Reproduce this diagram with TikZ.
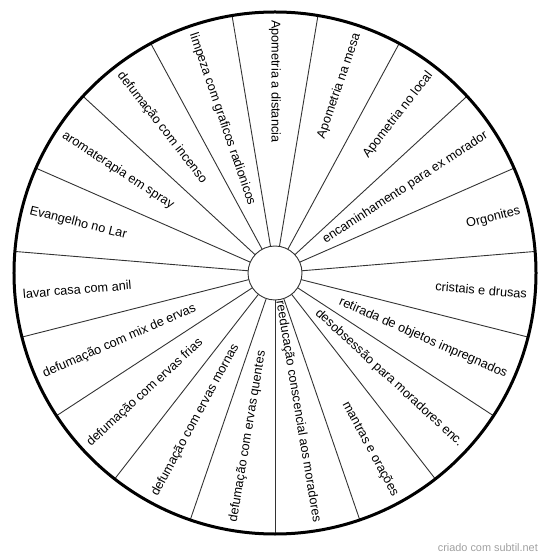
\documentclass[tikz,border=0pt]{standalone}
\usepackage{fontspec}
\setmainfont{Liberation Sans}
\begin{document}
\begin{tikzpicture}[x=1pt,y=1pt,
  lab/.style={font=\fontsize{12.7}{15}\selectfont, inner sep=0pt},
  spoke/.style={line width=0.9pt, black!80},
  credit/.style={font=\fontsize{10.9}{13}\selectfont, text={rgb,255:red,160;green,160;blue,160}, inner sep=0pt}]
\useasboundingbox (-275,-286) rectangle (275,273);
\def\R{261}
\def\r{27}
\foreach \i in {0,...,18} {
  \pgfmathsetmacro\a{90 - \i*360/19 + 180/19}
  \draw[spoke] (\a:\r) -- (\a:\R);
}
\draw[line width=3pt] (0,0) circle (\R);
\draw[line width=0.9pt, black!80, fill=white] (0,0) coordinate (c) circle (\r);
\foreach \t [count=\n from 0] in {Apometria a distancia, Apometria na mesa, Apometria no local, encaminhamento para ex morador, Orgonites, cristais e drusas, retirada de objetos impregnados, desobsessão para moradores enc., mantras e orações, reeducação conscencial aos moradores, defumação com ervas quentes, defumação com ervas mornas, defumação com ervas frias, defumação com mix de ervas, lavar casa com anil, Evangelho no Lar, aromaterapia em spray, defumação com incenso, limpeza com graficos radionicos} {
  \pgfmathsetmacro\a{90-\n*360/19}
  \pgfmathtruncatemacro\side{cos(\a)>0.01}
  \ifnum\side=1
    \node[lab, rotate=\a, anchor=east] (l\n) at (\a:253) {\t};
  \else
    \node[lab, rotate=\a+180, anchor=west] (l\n) at (\a:253) {\t};
  \fi
}
\node[credit, anchor=east] (credit) at (263,-275) {criado com subtil.net};
\end{tikzpicture}
\end{document}
